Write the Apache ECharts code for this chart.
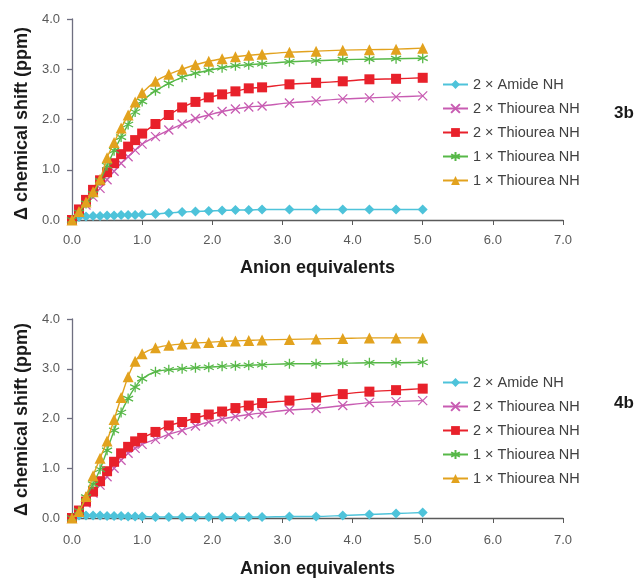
<!DOCTYPE html>
<html><head><meta charset="utf-8">
<script src="https://cdn.jsdelivr.net/npm/echarts@6/dist/echarts.min.js"></script>
<style>html,body{margin:0;padding:0;background:#fff}#c{width:640px;height:579px}</style>
</head><body><div id="c"></div>
<script>
// Anion equivalents (x values), shared by all series
const xEq = [0, 0.1, 0.2, 0.3, 0.4, 0.5, 0.6, 0.7, 0.8, 0.9, 1.0, 1.19, 1.38, 1.57, 1.76, 1.95, 2.14, 2.33, 2.52, 2.71, 3.1, 3.48, 3.86, 4.24, 4.62, 5.0];
const xTicks = [0, 1, 2, 3, 4, 5, 6, 7];
const yTicks = [0, 1, 2, 3, 4];
const seriesLabels = ["2 × Amide NH", "2 × Thiourea NH", "2 × Thiourea NH", "1 × Thiourea NH", "1 × Thiourea NH"];
const panelLabels = ["3b", "4b"];
const xTitle = "Anion equivalents";
const yTitle = "Δ chemical shift (ppm)";

// Panel 3b
const amide3b   = [0, 0.06, 0.07, 0.08, 0.08, 0.09, 0.09, 0.10, 0.10, 0.10, 0.11, 0.12, 0.14, 0.16, 0.17, 0.18, 0.19, 0.20, 0.20, 0.21, 0.21, 0.21, 0.21, 0.21, 0.21, 0.21];
const thioA3b   = [0, 0.15, 0.30, 0.46, 0.63, 0.80, 0.97, 1.13, 1.26, 1.39, 1.51, 1.66, 1.79, 1.91, 2.02, 2.09, 2.16, 2.21, 2.25, 2.27, 2.33, 2.37, 2.41, 2.43, 2.45, 2.47];
const thioB3b   = [0, 0.21, 0.40, 0.60, 0.79, 0.95, 1.13, 1.31, 1.46, 1.59, 1.72, 1.91, 2.09, 2.24, 2.35, 2.44, 2.50, 2.56, 2.62, 2.64, 2.70, 2.73, 2.76, 2.80, 2.81, 2.83];
const thioC3b   = [0, 0.15, 0.33, 0.52, 0.78, 1.08, 1.38, 1.65, 1.90, 2.15, 2.36, 2.57, 2.72, 2.84, 2.92, 2.98, 3.03, 3.07, 3.09, 3.11, 3.15, 3.17, 3.19, 3.20, 3.21, 3.22];
const thioD3b   = [0, 0.17, 0.36, 0.56, 0.81, 1.24, 1.54, 1.83, 2.09, 2.35, 2.53, 2.76, 2.90, 3.00, 3.09, 3.16, 3.21, 3.25, 3.28, 3.30, 3.34, 3.36, 3.38, 3.39, 3.40, 3.42];

// Panel 4b
const amide4b   = [0, 0.05, 0.05, 0.05, 0.05, 0.04, 0.04, 0.04, 0.03, 0.03, 0.03, 0.02, 0.02, 0.02, 0.02, 0.02, 0.02, 0.02, 0.02, 0.02, 0.03, 0.03, 0.05, 0.07, 0.09, 0.11];
const thioA4b   = [0, 0.12, 0.30, 0.50, 0.66, 0.83, 1.00, 1.16, 1.30, 1.40, 1.48, 1.58, 1.68, 1.76, 1.85, 1.93, 1.99, 2.04, 2.08, 2.11, 2.17, 2.20, 2.26, 2.32, 2.34, 2.36];
const thioB4b   = [0, 0.15, 0.33, 0.53, 0.74, 0.94, 1.13, 1.30, 1.43, 1.54, 1.61, 1.73, 1.86, 1.93, 2.01, 2.08, 2.14, 2.21, 2.26, 2.31, 2.36, 2.42, 2.49, 2.54, 2.57, 2.60];
const thioC4b   = [0, 0.14, 0.42, 0.68, 0.98, 1.36, 1.76, 2.12, 2.40, 2.63, 2.80, 2.94, 2.98, 3.00, 3.02, 3.03, 3.05, 3.06, 3.07, 3.08, 3.10, 3.10, 3.11, 3.12, 3.12, 3.13];
const thioD4b   = [0, 0.13, 0.43, 0.85, 1.20, 1.55, 1.98, 2.42, 2.84, 3.15, 3.30, 3.42, 3.47, 3.50, 3.52, 3.53, 3.55, 3.56, 3.57, 3.58, 3.59, 3.60, 3.61, 3.62, 3.62, 3.62];

const panels = [
  [amide3b, thioA3b, thioB3b, thioC3b, thioD3b],
  [amide4b, thioA4b, thioB4b, thioC4b, thioD4b]
];

const colors = ['#4EC3DA', '#C85CB2', '#E8212B', '#57B848', '#E2A21E'];
const crossPath = 'path://M0,0 L10,10 M10,0 L0,10';
const starPath = 'path://M5,0 L5,10 M0.7,2.5 L9.3,7.5 M9.3,2.5 L0.7,7.5';
const symbolDefs = [
  { symbol: 'diamond', size: [10, 10], fill: true },
  { symbol: crossPath, size: 9, fill: false },
  { symbol: 'rect', size: 10, fill: true },
  { symbol: starPath, size: 10, fill: false },
  { symbol: 'triangle', size: 11, fill: true }
];

const grids = [
  { left: 72, width: 491, top: 19, height: 201 },
  { left: 72, width: 491, top: 319, height: 201 }
];
const xLabelMargins = [14, 16];
const xNameGaps = [39, 42];
const yNamePads = [[0, 8, 0, 0], [0, 2, 0, 0]];

const FF = 'Liberation Sans, Arial, sans-serif';
const axisFont = { color: '#595959', fontSize: 13, fontFamily: FF };
const titleFont = { color: '#1a1a1a', fontSize: 18, fontWeight: 'bold', fontFamily: FF };
const axisLineStyle = { color: '#6f6f80', width: 1.3 };

const xAxes = grids.map((g, i) => ({
  type: 'value', gridIndex: i, min: xTicks[0], max: xTicks[xTicks.length - 1], interval: 1,
  axisLine: { show: true, lineStyle: { color: '#5a5a5a', width: 1.3 } },
  axisTick: { show: true, length: 5, inside: false, lineStyle: { color: '#5a5a5a' } },
  splitLine: { show: false },
  axisLabel: Object.assign({ formatter: v => v.toFixed(1), margin: xLabelMargins[i] }, axisFont),
  name: xTitle, nameLocation: 'middle', nameGap: xNameGaps[i], nameTextStyle: titleFont
}));
const yAxes = grids.map((g, i) => ({
  type: 'value', gridIndex: i, min: yTicks[0], max: yTicks[yTicks.length - 1], interval: 1,
  axisLine: { show: true, lineStyle: axisLineStyle },
  axisTick: { show: true, length: 5, lineStyle: axisLineStyle },
  splitLine: { show: false },
  axisLabel: Object.assign({ formatter: v => v.toFixed(1), margin: 12 }, axisFont),
  name: yTitle, nameLocation: 'middle', nameRotate: 90, nameGap: 41,
  nameTextStyle: Object.assign({}, titleFont, { padding: yNamePads[i] })
}));

const series = [];
const legends = [];
panels.forEach((vals, p) => {
  const names = [];
  vals.forEach((arr, s) => {
    const nm = seriesLabels[s] + '|' + p + s;
    names.push(nm);
    const sd = symbolDefs[s];
    series.push({
      name: nm, type: 'line', xAxisIndex: p, yAxisIndex: p,
      data: xEq.map((x, k) => [x, arr[k]]),
      smooth: 0.3,
      symbol: sd.symbol, symbolSize: sd.size, showSymbol: true,
      lineStyle: { color: colors[s], width: 1.4 },
      itemStyle: sd.fill ? { color: colors[s], borderWidth: 0 } : { color: 'rgba(0,0,0,0)', borderColor: colors[s], borderWidth: 1.3 },
      animation: false, z: 2 + s
    });
  });
  legends.push({
    data: names.map(n => ({ name: n })),
    orient: 'vertical', left: 442, top: p === 0 ? 77 : 375, padding: 0,
    itemWidth: 25, itemHeight: 11, itemGap: 9,
    formatter: n => n.split('|')[0],
    textStyle: { color: '#404040', fontSize: 14.5, fontFamily: FF },
    selectedMode: false
  });
});

const chart = echarts.init(document.getElementById('c'), null, { renderer: 'canvas' });
chart.setOption({
  backgroundColor: '#ffffff',
  animation: false,
  grid: grids,
  xAxis: xAxes,
  yAxis: yAxes,
  legend: legends,
  title: panelLabels.map((t, i) => ({
    text: t, left: 614, top: i === 0 ? 105 : 395, padding: 0,
    textStyle: { fontSize: 17, fontWeight: 'bold', color: '#1a1a1a', fontFamily: FF }
  })),
  series: series
});
</script></body></html>
